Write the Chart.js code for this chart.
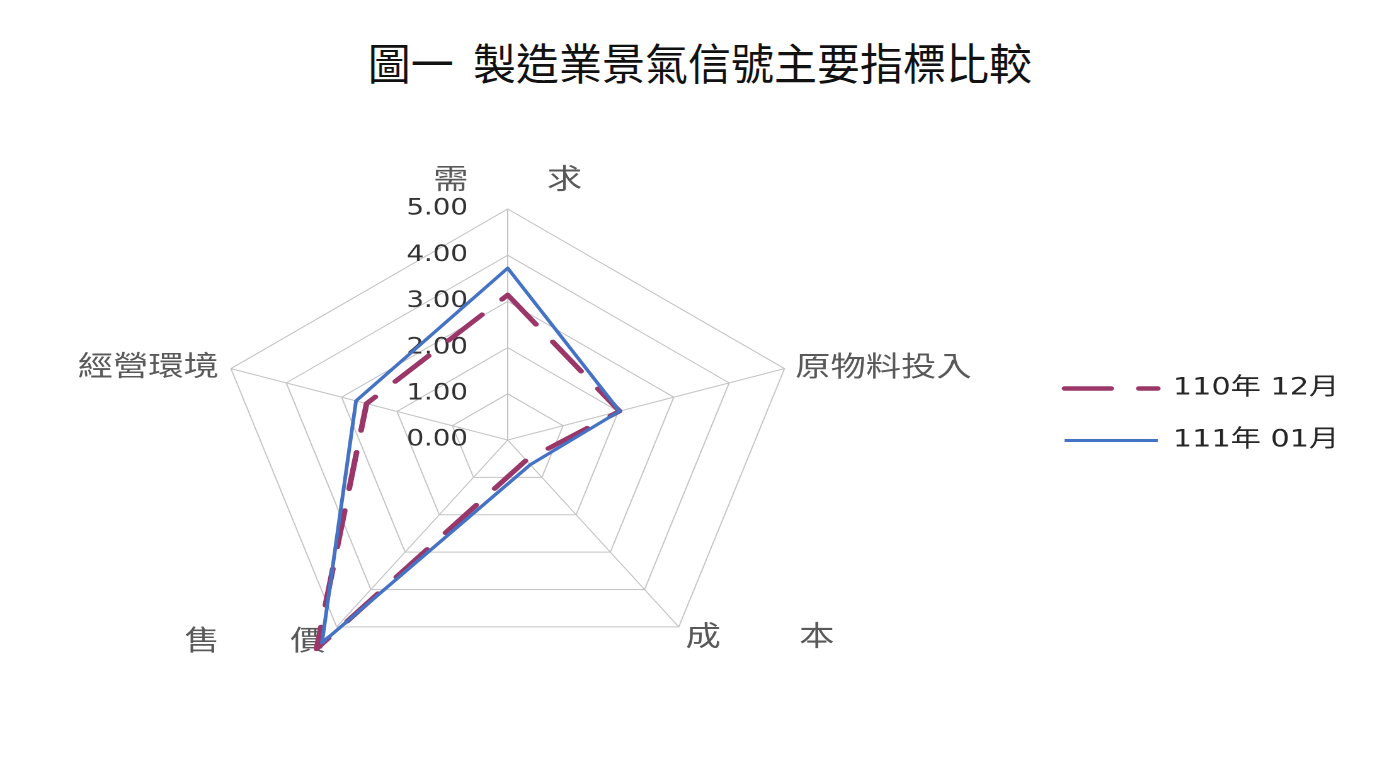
<!DOCTYPE html>
<html lang="zh-Hant">
<head>
<meta charset="utf-8">
<title>圖一 製造業景氣信號主要指標比較</title>
<script src="https://cdn.jsdelivr.net/npm/chart.js@4.4.1/dist/chart.umd.min.js"></script>
<style>
  html, body { margin: 0; padding: 0; background: #ffffff; width: 1382px; height: 776px; overflow: hidden; }
  #title {
    position: absolute; left: 9px; top: 40px; width: 1382px;
    text-align: center; white-space: pre;
    font-family: "Noto Sans CJK TC", "Noto Sans CJK SC", sans-serif;
    font-size: 43px; line-height: 43px; font-weight: 400; color: #111111;
  }
  #stage {
    position: absolute; left: 0; top: 0; width: 1097px; height: 776px;
    transform: scaleX(1.2598); transform-origin: 0 0;
  }
</style>
</head>
<body>
<div id="title">圖一  製造業景氣信號主要指標比較</div>
<div id="stage"><canvas id="chart"></canvas></div>
<script>
// ---- data ----
const categories = ['需\u3000\u3000 求', '原物料投入', '成\u3000\u3000 本', '售\u3000\u3000價', '經營環境'];
const seriesNames = ['110年 12月', '111年 01月'];
const valuesDec110 = [3.14, 2.02, 0.54, 5.59, 2.55];
const valuesJan111 = [3.72, 2.02, 0.66, 5.43, 2.74];
const scaleMin = -0.000001;   // lets the 0.00 tick be labelled
const scaleMax = 5;
const scaleStep = 1;

// ---- styles (not data) ----
const RED = '#9a3768';
const BLUE = '#4472c4';
const GRID = '#c4c4c4';
const labelPadding = [-16, -4, -4, 2, -3];

const chart = new Chart(document.getElementById('chart'), {
  type: 'radar',
  data: {
    labels: categories,
    datasets: [
      {
        label: seriesNames[0],
        data: valuesDec110,
        borderColor: RED,
        backgroundColor: RED,
        borderWidth: 4.5,
        borderDash: [37, 22],
        borderCapStyle: 'round',
        borderJoinStyle: 'round',
        fill: false,
        pointRadius: 0,
        pointHoverRadius: 0,
        tension: 0,
        order: 2
      },
      {
        label: seriesNames[1],
        data: valuesJan111,
        borderColor: BLUE,
        backgroundColor: BLUE,
        borderWidth: 3,
        borderJoinStyle: 'round',
        fill: false,
        pointRadius: 0,
        pointHoverRadius: 0,
        tension: 0,
        order: 1
      }
    ]
  },
  options: {
    responsive: true,
    maintainAspectRatio: false,
    devicePixelRatio: 2,
    animation: false,
    layout: { padding: { top: 118, bottom: 65, left: -25, right: 24 } },
    plugins: {
      title: { display: false },
      tooltip: { enabled: false },
      legend: {
        display: true,
        position: 'right',
        align: 'center',
        labels: {
          usePointStyle: true,
          pointStyle: 'line',
          pointStyleWidth: 74,
          padding: 28,
          color: '#262626',
          font: { family: '"DejaVu Sans", "Noto Sans CJK TC"', size: 24 },
          sort: (a, b) => a.datasetIndex - b.datasetIndex,
          generateLabels: (c) => {
            const items = Chart.defaults.plugins.legend.labels.generateLabels(c);
            items.forEach(it => {
              const ds = c.data.datasets[it.datasetIndex];
              it.strokeStyle = ds.borderColor;
              it.lineWidth = ds.borderWidth;
              it.lineDash = ds.borderDash || [];
              it.lineCap = ds.borderCapStyle || 'butt';
              it.lineDashOffset = 0;
            });
            return items;
          }
        }
      }
    },
    scales: {
      r: {
        min: scaleMin,
        max: scaleMax,
        grid: { color: GRID, lineWidth: 1 },
        angleLines: { color: GRID, lineWidth: 1 },
        ticks: {
          stepSize: scaleStep,
          showLabelBackdrop: false,
          color: '#333333',
          font: { family: '"DejaVu Sans"', size: 22 },
          callback: (v) => Math.abs(v).toFixed(2) + '\u00a0'.repeat(16)
        },
        pointLabels: {
          color: '#595959',
          padding: (ctx) => labelPadding[ctx.index],
          font: (ctx) => ({
            family: '"Noto Sans CJK TC", "Noto Sans CJK SC"',
            size: 28,
            lineHeight: ctx.index === 0 ? '68px' : '1px'
          })
        }
      }
    }
  }
});
</script>
</body>
</html>
